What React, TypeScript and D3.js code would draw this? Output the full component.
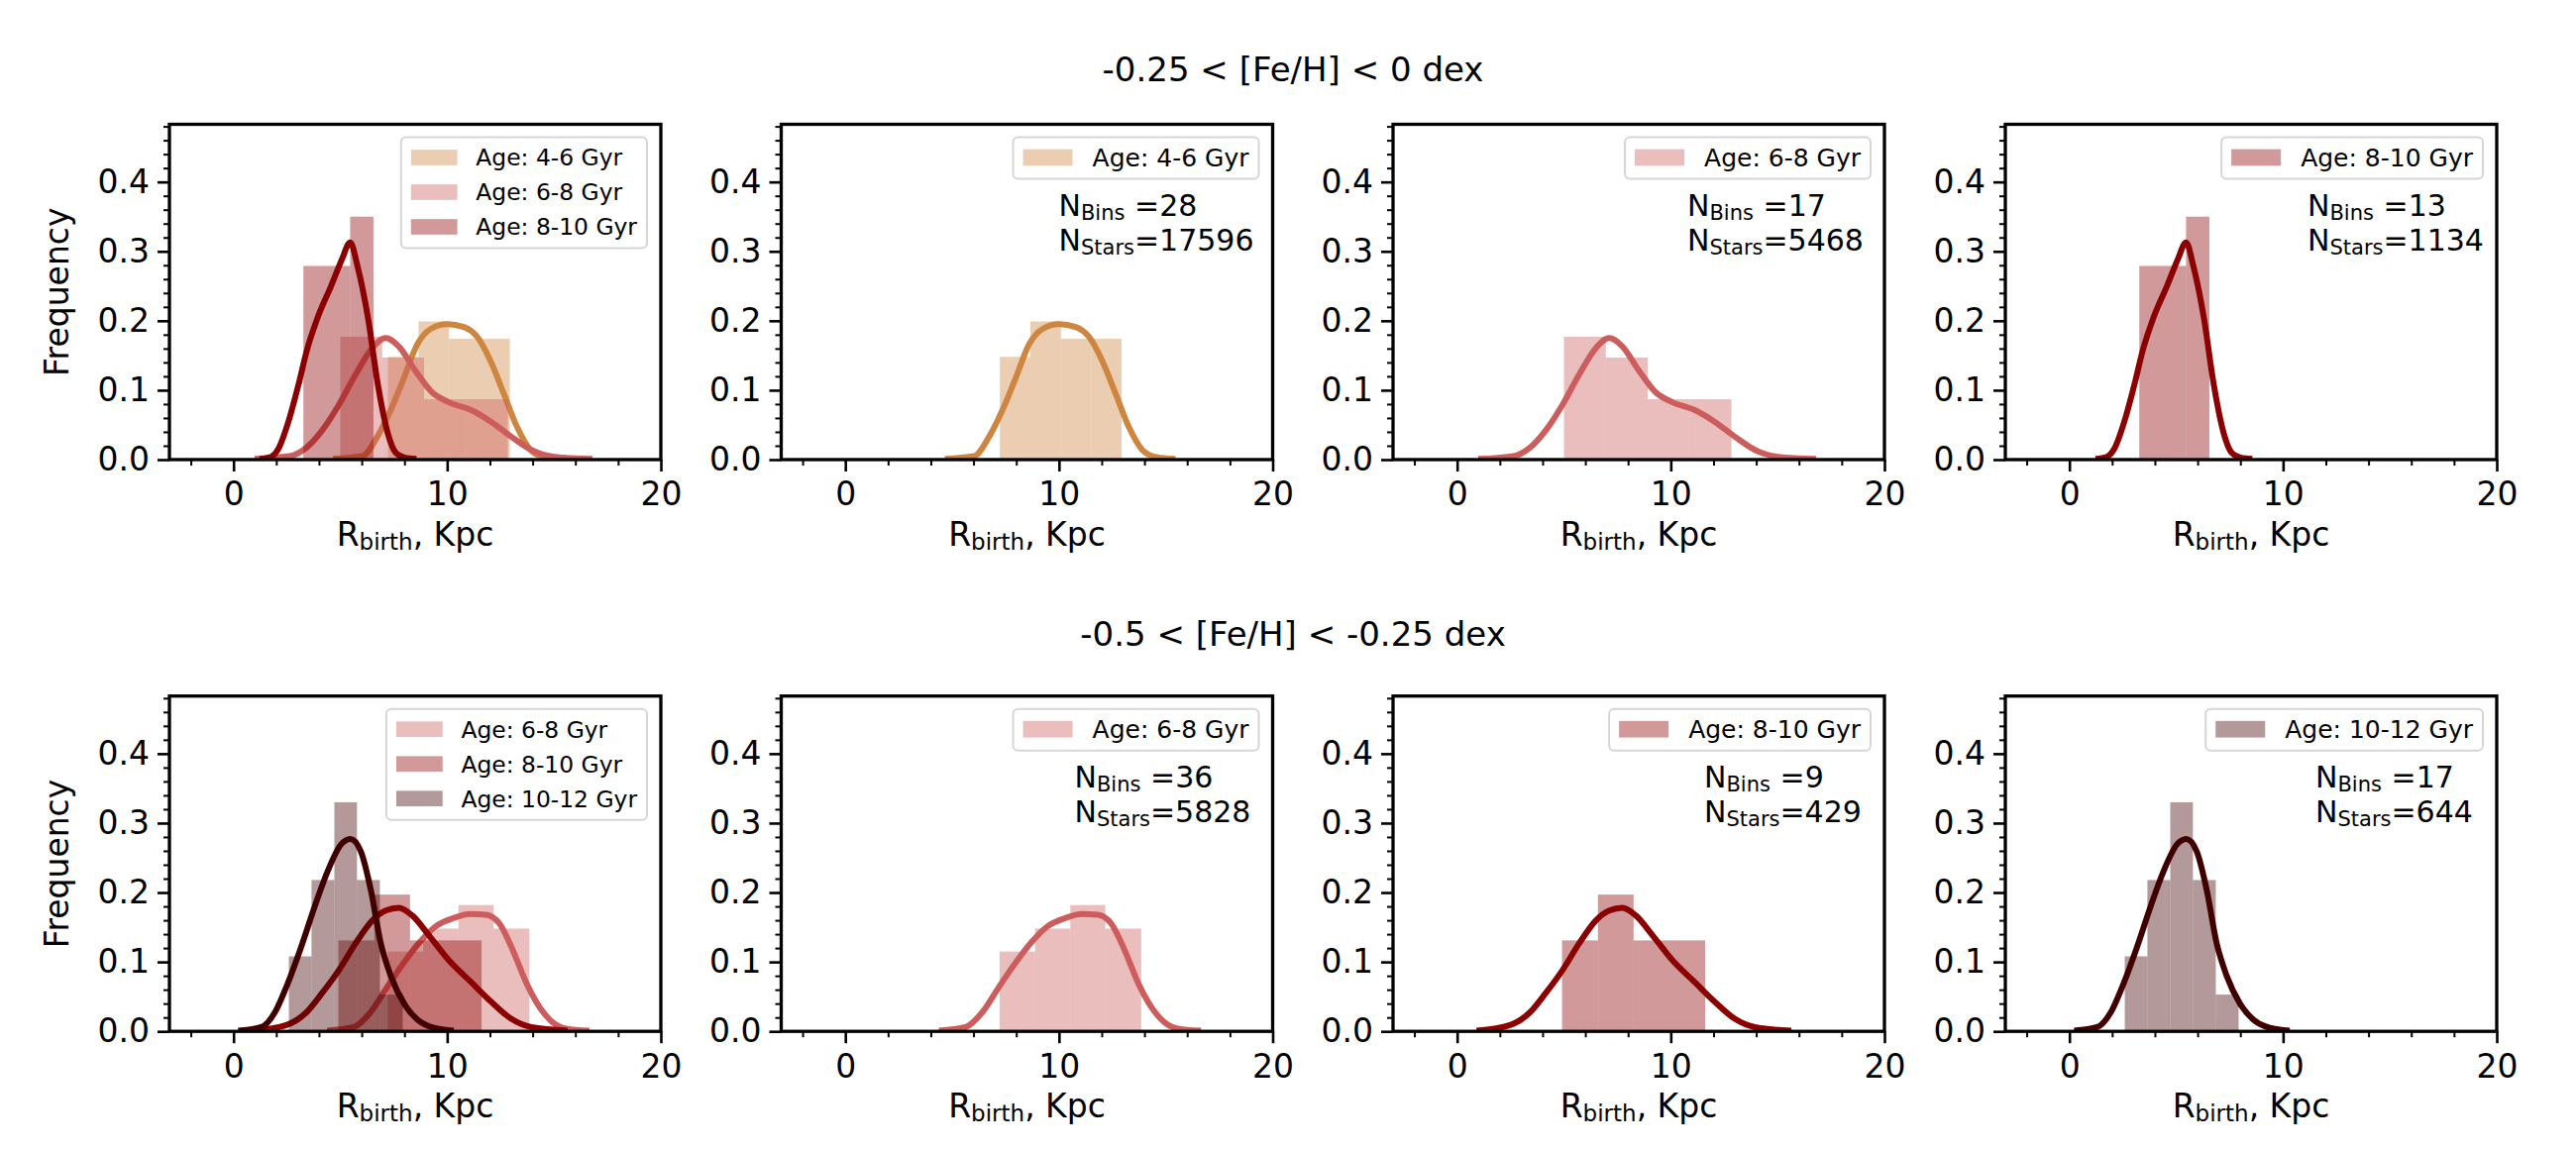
import React, { useEffect, useRef } from "react";
import * as d3 from "d3";

type Pt = [number, number];

// row titles
const rowTitles = ["-0.25 < [Fe/H] < 0 dex", "-0.5 < [Fe/H] < -0.25 dex"];

// histogram bin edges (Kpc) and bar heights (Frequency), KDE points
// -0.25 < [Fe/H] < 0
const edgesTop46 = [7.23, 8.66, 10.09, 11.51, 12.93];
const freqTop46 = [0.148, 0.199, 0.174, 0.174];
const kdeTop46: Pt[] = [
  [4.66, 0.001], [6.03, 0.005], [6.73, 0.033], [7.35, 0.071], [7.98, 0.118],
  [8.6, 0.166], [9.22, 0.188], [10.0, 0.195], [10.78, 0.191], [11.4, 0.177],
  [12.03, 0.142], [12.65, 0.095], [13.27, 0.047], [13.9, 0.014], [14.5, 0.004],
  [15.45, 0.001],
];

const edgesTop68 = [5.0, 6.96, 8.92, 10.88, 12.84];
const freqTop68 = [0.177, 0.147, 0.087, 0.087];
const kdeTop68: Pt[] = [
  [0.99, 0.001], [2.62, 0.005], [3.4, 0.017], [4.17, 0.043], [4.95, 0.08],
  [5.72, 0.123], [6.5, 0.161], [7.12, 0.175], [7.74, 0.163], [8.51, 0.128],
  [9.29, 0.097], [10.06, 0.083], [11.15, 0.071], [12.08, 0.054], [13.0, 0.033],
  [13.94, 0.014], [15.02, 0.004], [16.8, 0.001],
];

const edgesTop810 = [3.27, 4.37, 5.46, 6.55];
const freqTop810 = [0.279, 0.279, 0.35];
const kdeTop810: Pt[] = [
  [1.22, 0.001], [1.75, 0.004], [2.07, 0.014], [2.64, 0.062], [3.05, 0.109],
  [3.42, 0.156], [3.93, 0.204], [4.58, 0.251], [5.08, 0.289], [5.46, 0.313],
  [5.8, 0.279], [6.3, 0.203], [6.75, 0.109], [7.22, 0.038], [7.59, 0.01],
  [8.0, 0.003], [8.56, 0.001],
];

// -0.5 < [Fe/H] < -0.25
const edgesBot68 = [7.22, 8.88, 10.53, 12.17, 13.85];
const freqBot68 = [0.115, 0.148, 0.182, 0.148];
const kdeBot68: Pt[] = [
  [4.38, 0.001], [5.62, 0.006], [6.4, 0.027], [7.17, 0.063], [7.95, 0.098],
  [8.73, 0.129], [9.5, 0.152], [10.28, 0.163], [11.06, 0.169], [11.83, 0.168],
  [12.45, 0.155], [13.07, 0.117], [13.7, 0.07], [14.32, 0.035], [14.94, 0.013],
  [15.56, 0.004], [16.65, 0.001],
];

const edgesBot810 = [4.91, 6.59, 8.26, 9.94, 11.61];
const freqBot810 = [0.131, 0.197, 0.131, 0.131];
const kdeBot810: Pt[] = [
  [0.91, 0.001], [2.47, 0.009], [3.4, 0.027], [4.17, 0.056], [4.95, 0.089],
  [5.72, 0.127], [6.5, 0.16], [7.12, 0.174], [7.74, 0.178], [8.36, 0.167],
  [9.13, 0.139], [10.06, 0.103], [11.15, 0.07], [12.08, 0.042], [13.0, 0.018],
  [13.94, 0.006], [15.64, 0.001],
];

const edgesBot1012 = [2.59, 3.65, 4.72, 5.78, 6.85, 7.92];
const freqBot1012 = [0.108, 0.218, 0.33, 0.218, 0.053];
const kdeBot1012: Pt[] = [
  [0.22, 0.001], [1.3, 0.006], [1.93, 0.027], [2.55, 0.07], [3.17, 0.122],
  [3.79, 0.179], [4.41, 0.231], [5.03, 0.269], [5.47, 0.277], [5.96, 0.259],
  [6.43, 0.203], [6.89, 0.127], [7.36, 0.08], [7.98, 0.04], [8.6, 0.017],
  [9.38, 0.005], [10.31, 0.001],
];

// per-panel counts
const nBins = [[28, 17, 13], [36, 9, 17]];
const nStars = [[17596, 5468, 1134], [5828, 429, 644]];

// axis ticks
const xMajor = [0, 10, 20];
const xMinor = [-2, 2, 4, 6, 8, 12, 14, 16, 18];
const yMajor = [0, 0.1, 0.2, 0.3, 0.4];
const yMinor = [0.02, 0.04, 0.06, 0.08, 0.12, 0.14, 0.16, 0.18, 0.22, 0.24, 0.26, 0.28, 0.32, 0.34, 0.36, 0.38, 0.42, 0.44, 0.46, 0.48];

interface Series {
  label: string;
  color: string;
  edges: number[];
  freq: number[];
  kde: Pt[];
}

const top46: Series = { label: "Age: 4-6 Gyr", color: "#cd853f", edges: edgesTop46, freq: freqTop46, kde: kdeTop46 };
const top68: Series = { label: "Age: 6-8 Gyr", color: "#cd5c5c", edges: edgesTop68, freq: freqTop68, kde: kdeTop68 };
const top810: Series = { label: "Age: 8-10 Gyr", color: "#8b0000", edges: edgesTop810, freq: freqTop810, kde: kdeTop810 };
const bot68: Series = { label: "Age: 6-8 Gyr", color: "#cd5c5c", edges: edgesBot68, freq: freqBot68, kde: kdeBot68 };
const bot810: Series = { label: "Age: 8-10 Gyr", color: "#8b0000", edges: edgesBot810, freq: freqBot810, kde: kdeBot810 };
const bot1012: Series = { label: "Age: 10-12 Gyr", color: "#400000", edges: edgesBot1012, freq: freqBot1012, kde: kdeBot1012 };

const rows: Series[][] = [
  [top46, top68, top810],
  [bot68, bot810, bot1012],
];

// layout
const WIDTH = 2600;
const HEIGHT = 1162;
const panelLeft = [171, 788.5, 1406, 2024];
const panelW = 496;
const rowTop = [125.5, 702.7];
const panelH = 338.5;
const titleY = [82, 652];
const statsX = [[280, 297, 305], [296, 314, 313]];
const FONT = "DejaVu Sans";

export default function App() {
  const svgRef = useRef<SVGSVGElement | null>(null);

  useEffect(() => {
    document.body.style.margin = "0";
    const svg = d3.select(svgRef.current);
    svg.selectAll("*").remove();
    svg.append("rect").attr("width", WIDTH).attr("height", HEIGHT).attr("fill", "white");

    rowTitles.forEach((t, r) => {
      svg
        .append("text")
        .attr("x", 1305)
        .attr("y", titleY[r])
        .attr("text-anchor", "middle")
        .attr("font-family", FONT)
        .attr("font-size", 34)
        .text(t);
    });

    const x = d3.scaleLinear().domain([-3, 20]).range([0, panelW]);
    const y = d3.scaleLinear().domain([0, 0.483]).range([panelH, 0]);
    const line = d3
      .line<Pt>()
      .x((d) => x(d[0]))
      .y((d) => y(d[1]))
      .curve(d3.curveMonotoneX);

    rows.forEach((rowSeries, r) => {
      for (let c = 0; c < 4; c++) {
        const series = c === 0 ? rowSeries : [rowSeries[c - 1]];
        const g = svg
          .append("g")
          .attr("transform", `translate(${panelLeft[c]},${rowTop[r]})`);

        const clipId = `clip-${r}-${c}`;
        g.append("clipPath")
          .attr("id", clipId)
          .append("rect")
          .attr("width", panelW)
          .attr("height", panelH);
        const plot = g.append("g").attr("clip-path", `url(#${clipId})`);

        // histogram bars then kde, one series after another
        series.forEach((s) => {
          plot
            .append("g")
            .selectAll("rect")
            .data(s.freq)
            .join("rect")
            .attr("x", (_, i) => x(s.edges[i]))
            .attr("width", (_, i) => x(s.edges[i + 1]) - x(s.edges[i]))
            .attr("y", (d) => y(d))
            .attr("height", (d) => panelH - y(d))
            .attr("fill", s.color)
            .attr("fill-opacity", 0.4);
          plot
            .append("path")
            .datum(s.kde)
            .attr("fill", "none")
            .attr("stroke", s.color)
            .attr("stroke-width", 6)
            .attr("stroke-linejoin", "round")
            .attr("d", line);
        });

        // x axis
        const xAxisMajor = g
          .append("g")
          .attr("transform", `translate(0,${panelH})`)
          .call(d3.axisBottom(x).tickValues(xMajor).tickSize(12).tickPadding(11).tickFormat(d3.format("d")));
        const xAxisMinor = g
          .append("g")
          .attr("transform", `translate(0,${panelH})`)
          .call(d3.axisBottom(x).tickValues(xMinor).tickSize(6).tickFormat(() => ""));
        // y axis
        const yAxisMajor = g
          .append("g")
          .call(d3.axisLeft(y).tickValues(yMajor).tickSize(12).tickPadding(8).tickFormat(d3.format(".1f")));
        const yAxisMinor = g
          .append("g")
          .call(d3.axisLeft(y).tickValues(yMinor).tickSize(6).tickFormat(() => ""));

        [xAxisMajor, xAxisMinor, yAxisMajor, yAxisMinor].forEach((a, i) => {
          a.select(".domain").remove();
          a.selectAll("line").attr("stroke", "black").attr("stroke-width", i % 2 === 0 ? 2.6 : 2);
          a.selectAll("text").attr("font-family", FONT).attr("font-size", 33).attr("fill", "black");
        });

        // frame
        g.append("rect")
          .attr("width", panelW)
          .attr("height", panelH)
          .attr("fill", "none")
          .attr("stroke", "black")
          .attr("stroke-width", 3.3);

        // x label
        const xl = g
          .append("text")
          .attr("x", panelW / 2)
          .attr("y", panelH + 86.5)
          .attr("text-anchor", "middle")
          .attr("font-family", FONT)
          .attr("font-size", 33);
        xl.append("tspan").text("R");
        xl.append("tspan").attr("font-size", 23).attr("dy", 4).text("birth");
        xl.append("tspan").attr("dy", -4).text(", Kpc");

        if (c === 0) {
          g.append("text")
            .attr("transform", `translate(${57 - panelLeft[c] + 12},${panelH / 2}) rotate(-90)`)
            .attr("text-anchor", "middle")
            .attr("font-family", FONT)
            .attr("font-size", 33)
            .text("Frequency");
        }

        // legend
        const fs = c === 0 ? 23.4 : 25;
        const rowH = 35;
        const patchW = fs * 2;
        const patchH = fs * 0.67;
        const padL = 10;
        const gap = fs * 0.8;
        const padR = 10;
        const lg = g.append("g");
        const box = lg.append("rect");
        let maxW = 0;
        const texts = series.map((s) => {
          const t = lg
            .append("text")
            .attr("font-family", FONT)
            .attr("font-size", fs)
            .text(s.label);
          maxW = Math.max(maxW, (t.node() as SVGTextElement).getComputedTextLength());
          return t;
        });
        const boxW = padL + patchW + gap + maxW + padR;
        const boxH = 42 + rowH * (series.length - 1);
        const bx = panelW - 14 - boxW;
        const by = 13;
        box
          .attr("x", bx)
          .attr("y", by)
          .attr("width", boxW)
          .attr("height", boxH)
          .attr("rx", 5)
          .attr("fill", "white")
          .attr("fill-opacity", 0.8)
          .attr("stroke", "#d6d6d6")
          .attr("stroke-width", 2);
        series.forEach((s, i) => {
          const cy = by + 20.5 + i * rowH;
          lg.append("rect")
            .attr("x", bx + padL)
            .attr("y", cy - patchH / 2)
            .attr("width", patchW)
            .attr("height", patchH)
            .attr("fill", s.color)
            .attr("fill-opacity", 0.4);
          texts[i].attr("x", bx + padL + patchW + gap).attr("y", cy + fs * 0.36);
        });

        // counts
        if (c > 0) {
          const sx = statsX[r][c - 1];
          const t1 = g.append("text").attr("x", sx).attr("y", 92.5).attr("font-family", FONT).attr("font-size", 30);
          t1.append("tspan").text("N");
          t1.append("tspan").attr("font-size", 21).attr("dy", 4).text("Bins");
          t1.append("tspan").attr("dy", -4).text(` =${nBins[r][c - 1]}`);
          const t2 = g.append("text").attr("x", sx).attr("y", 127.5).attr("font-family", FONT).attr("font-size", 30);
          t2.append("tspan").text("N");
          t2.append("tspan").attr("font-size", 21).attr("dy", 4).text("Stars");
          t2.append("tspan").attr("dy", -4).text(`=${nStars[r][c - 1]}`);
        }
      }
    });
  }, []);

  return <svg ref={svgRef} width={WIDTH} height={HEIGHT} style={{ display: "block" }} />;
}
